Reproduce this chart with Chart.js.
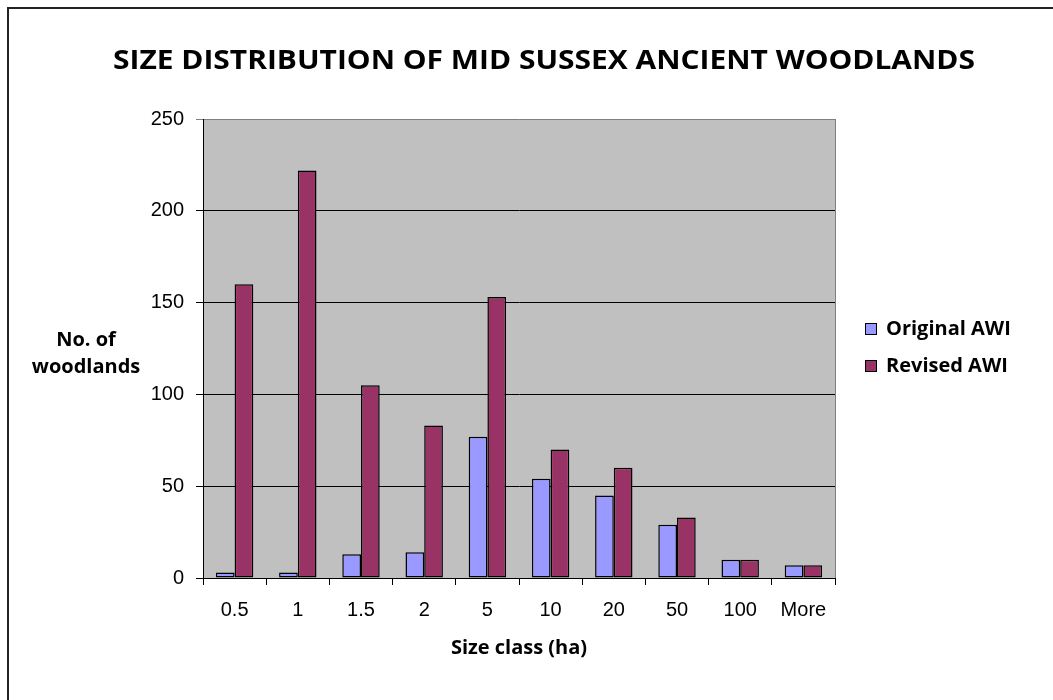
<!DOCTYPE html>
<html>
<head>
<meta charset="utf-8">
<title>Size distribution of Mid Sussex ancient woodlands</title>
<script src="https://cdn.jsdelivr.net/npm/chart.js@4.4.1/dist/chart.umd.min.js"></script>
<style>
    html, body { margin: 0; padding: 0; background: #ffffff; }
    #wrap { width: 1053px; height: 700px; }
</style>
</head>
<body>
<div id="wrap"><canvas id="chart" width="1053" height="700"></canvas></div>
<script>
// Chart data
const sizeClasses = ['0.5', '1', '1.5', '2', '5', '10', '20', '50', '100', 'More'];
const originalAwi = [3, 3, 13, 14, 77, 54, 45, 29, 10, 7];
const revisedAwi = [160, 222, 105, 83, 153, 70, 60, 33, 10, 7];
const seriesNames = ['Original AWI', 'Revised AWI'];
const yMin = 0;
const yMax = 250;
const yStep = 50;

const chartTitle = 'SIZE DISTRIBUTION OF MID SUSSEX ANCIENT WOODLANDS';
const yTitleLines = ['No. of', 'woodlands'];
const xTitle = 'Size class (ha)';

const tickFont = { family: '"Liberation Sans", Arial, sans-serif', size: 20 };
const boldFont = '"Open Sans", Lato, sans-serif';

// Background, frame, titles and legend drawn around the chart area
const decorPlugin = {
    id: 'decor',
    beforeDraw(chart) {
        const ctx = chart.ctx;
        const a = chart.chartArea;
        ctx.save();
        ctx.fillStyle = '#ffffff';
        ctx.fillRect(0, 0, chart.width, chart.height);

        // outer frame (top and left edges only are visible)
        ctx.strokeStyle = '#222222';
        ctx.lineWidth = 2;
        ctx.beginPath();
        ctx.moveTo(8, chart.height);
        ctx.lineTo(8, 8);
        ctx.lineTo(chart.width, 8);
        ctx.stroke();

        // plot area fill
        ctx.fillStyle = '#c0c0c0';
        ctx.fillRect(a.left, a.top, a.right - a.left, a.bottom - a.top);
        ctx.restore();
    },
    beforeDatasetsDraw(chart) {
        const ctx = chart.ctx;
        const a = chart.chartArea;
        ctx.save();
        ctx.strokeStyle = '#808080';
        ctx.lineWidth = 1;
        ctx.beginPath();
        ctx.moveTo(a.right + 0.5, a.top);
        ctx.lineTo(a.right + 0.5, a.bottom);
        ctx.stroke();
        ctx.restore();
    },
    afterDraw(chart) {
        const ctx = chart.ctx;
        ctx.save();
        ctx.fillStyle = '#000000';
        ctx.textBaseline = 'middle';

        // main title, squeezed/stretched to the reference width
        ctx.font = 'bold 26px ' + boldFont;
        const w = ctx.measureText(chartTitle).width;
        const sx = 862 / w;
        ctx.save();
        ctx.translate(544, 62);
        ctx.scale(sx, 1);
        ctx.textAlign = 'center';
        ctx.fillText(chartTitle, 0, 0);
        ctx.restore();

        // y axis title, horizontal, two lines
        ctx.textAlign = 'center';
        ctx.font = 'bold 20px ' + boldFont;
        ctx.fillText(yTitleLines[0], 86, 340);
        ctx.fillText(yTitleLines[1], 86, 367);

        // legend
        const boxX = 865;
        const rows = [329, 366];
        chart.data.datasets.forEach((ds, i) => {
            const y = rows[i];
            ctx.fillStyle = ds.backgroundColor;
            ctx.fillRect(boxX, y - 6, 12, 12);
            ctx.strokeStyle = '#000000';
            ctx.lineWidth = 1;
            ctx.strokeRect(boxX + 0.5, y - 5.5, 11, 11);
            ctx.fillStyle = '#000000';
            ctx.textAlign = 'left';
            ctx.font = 'bold 20px ' + boldFont;
            ctx.fillText(ds.label, boxX + 21, y);
        });
        ctx.restore();
    }
};

function buildChart() {
    const ctx = document.getElementById('chart');
    new Chart(ctx, {
        type: 'bar',
        data: {
            labels: sizeClasses,
            datasets: [
                {
                    label: seriesNames[0],
                    data: originalAwi,
                    backgroundColor: '#9999ff',
                    borderColor: '#000000',
                    borderWidth: 1.5,
                    borderSkipped: false
                },
                {
                    label: seriesNames[1],
                    data: revisedAwi,
                    backgroundColor: '#993366',
                    borderColor: '#000000',
                    borderWidth: 1.5,
                    borderSkipped: false
                }
            ]
        },
        options: {
            responsive: false,
            animation: false,
            devicePixelRatio: 1,
            categoryPercentage: 0.592,
            barPercentage: 1,
            layout: {
                padding: { top: 119, right: 218, bottom: 0, left: 0 }
            },
            plugins: {
                legend: { display: false },
                title: { display: false },
                tooltip: { enabled: false }
            },
            scales: {
                x: {
                    afterFit(scale) { scale.height = 122; },
                    grid: {
                        offset: true,
                        drawOnChartArea: false,
                        drawTicks: true,
                        tickLength: 7,
                        color: '#000000'
                    },
                    border: { display: true, color: '#000000', width: 1 },
                    ticks: {
                        color: '#000000',
                        font: tickFont,
                        padding: 13,
                        maxRotation: 0,
                        autoSkip: false
                    },
                    title: {
                        display: true,
                        text: xTitle,
                        color: '#000000',
                        font: { family: boldFont, size: 20, weight: 'bold' },
                        padding: { top: 0, bottom: 40 }
                    }
                },
                y: {
                    min: yMin,
                    max: yMax,
                    afterFit(scale) { scale.width = 203; },
                    grid: {
                        color: (c) => (c.tick && c.tick.value === yMax ? '#808080' : '#000000'),
                        lineWidth: 1,
                        drawTicks: true,
                        tickLength: 7
                    },
                    border: { display: true, color: '#000000', width: 1 },
                    ticks: {
                        stepSize: yStep,
                        color: '#000000',
                        font: tickFont,
                        padding: 12
                    }
                }
            }
        },
        plugins: [decorPlugin]
    });
}

document.addEventListener('DOMContentLoaded', function() {
    buildChart();
});
</script>
</body>
</html>
